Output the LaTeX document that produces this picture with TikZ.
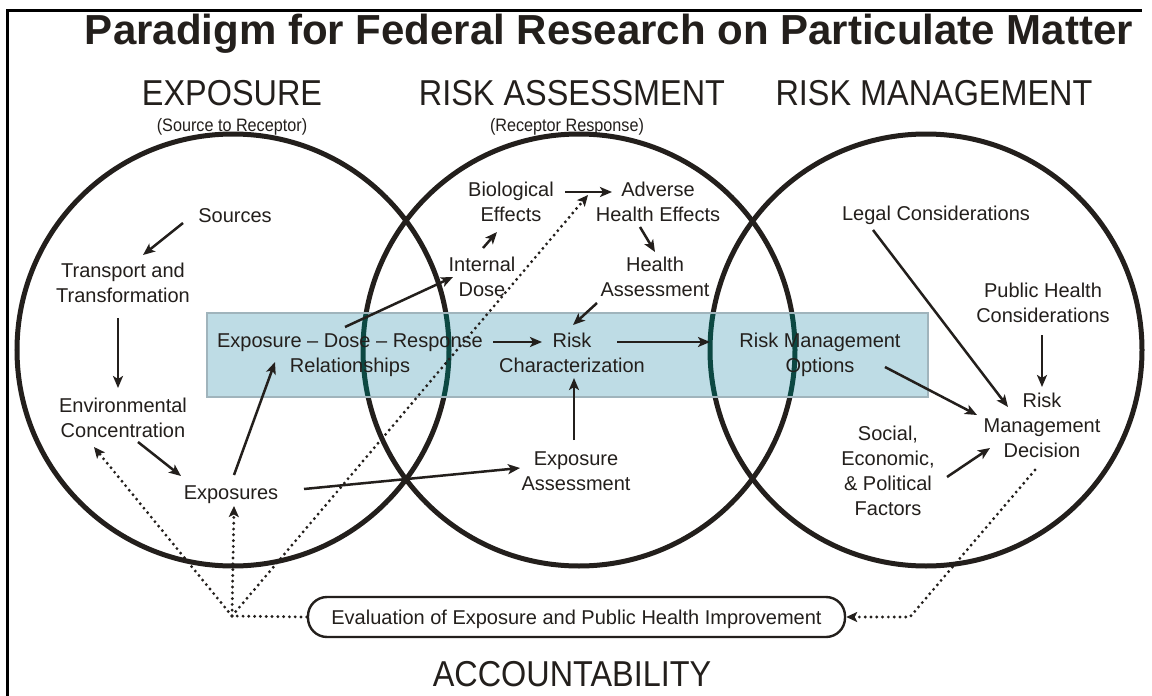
\documentclass[tikz,border=0pt]{standalone}
\usepackage{fontspec}
\setmainfont{Liberation Sans}
\newfontfamily\headfont[FakeStretch=0.9]{Liberation Sans}
\usetikzlibrary{arrows.meta,calc}
\definecolor{ink}{RGB}{35,31,28}
\definecolor{bandfill}{RGB}{190,220,229}
\definecolor{bandedge}{RGB}{160,180,188}
\definecolor{tealink}{RGB}{12,72,66}
\begin{document}
\begin{tikzpicture}[x=1pt,y=-1pt,
  txt/.style={font=\fontsize{20}{25}\selectfont, align=center, inner sep=0pt, text=ink,
    execute at begin node=\strut, execute at end node=\strut},
  head/.style={font=\headfont\fontsize{36}{40}\selectfont, anchor=base, inner sep=0pt, text=ink},
  sub/.style={font=\headfont\fontsize{18}{21}\selectfont, anchor=base, inner sep=0pt, text=ink},
  circ/.style={line width=5pt, draw=ink},
  arr/.style={-{Stealth[length=12pt,width=10pt,inset=3pt]}, line width=2.5pt, draw=ink},
  dot/.style={-{Stealth[length=11pt,width=10pt,inset=2.5pt]}, line width=3.2pt, draw=ink, line cap=round, dash pattern=on 0pt off 5.8pt},
  dotline/.style={line width=3.2pt, draw=ink, line cap=round, dash pattern=on 0pt off 5.8pt}
]
\useasboundingbox (0,0) rectangle (1152,696);
\fill[white] (0,0) rectangle (1152,696);
% partial frame
\draw[line width=3pt, black] (7.5,696) -- (7.5,10.5) -- (1142,10.5);

% titles
\node[font=\bfseries\fontsize{42}{46}\selectfont, anchor=base, inner sep=0pt, text=ink] (title) at (609,45) {Paradigm for Federal Research on Particulate Matter};
\node[head] (hexp) at (232,105) {EXPOSURE};
\node[head] (hra) at (572,105) {RISK ASSESSMENT};
\node[head] (hrm) at (934,105) {RISK MANAGEMENT};
\node[sub] (sexp) at (232,131.5) {(Source to Receptor)};
\node[sub] (sra) at (567,131.5) {(Receptor Response)};
\node[head] (acc) at (572,686) {ACCOUNTABILITY};

% circles
\coordinate (c1) at (233,350);
\coordinate (c2) at (579,350);
\coordinate (c3) at (926,350);
\draw[circ] (c1) circle[radius=216pt];
\draw[circ] (c2) circle[radius=216pt];
\draw[circ] (c3) circle[radius=216pt];

% blue band
\fill[bandfill] (207,313) rectangle (928,397);
\begin{scope}
  \clip (207,313) rectangle (928,397);
  \draw[circ, draw=tealink] (c1) circle[radius=216pt];
  \draw[circ, draw=tealink] (c2) circle[radius=216pt];
  \draw[circ, draw=tealink] (c3) circle[radius=216pt];
\end{scope}
\draw[bandedge, line width=1.5pt] (207,313) rectangle (928,397);

% text nodes
\node[txt] (src) at (235,217) {Sources};
\node[txt] (tt) at (123,287) {Transport and\\Transformation};
\node[txt] (ec) at (123,422) {Environmental\\Concentration};
\node[txt] (exs) at (231,494) {Exposures};
\node[txt] (edr) at (350,357) {Exposure -- Dose -- Response\\Relationships};
\node[txt] (rc) at (572,357) {Risk\\Characterization};
\node[txt] (rmo) at (820,357) {Risk Management\\Options};
\node[txt] (bio) at (511,206) {Biological\\Effects};
\node[txt] (ahe) at (658,206) {Adverse\\Health Effects};
\node[txt] (id) at (482,280.5) {Internal\\Dose};
\node[txt] (ha) at (655,281) {Health\\Assessment};
\node[txt] (ea) at (576,474.5) {Exposure\\Assessment};
\node[txt] (legal) at (936,215) {Legal Considerations};
\node[txt] (phc) at (1043,306.5) {Public Health\\Considerations};
\node[txt] (rmd) at (1042,429) {Risk\\Management\\Decision};
\node[txt] (sep) at (888,474) {Social,\\Economic,\\\& Political\\Factors};
\node[font=\fontsize{20}{25}\selectfont, text=ink, inner sep=0pt, text height=14.4pt, text depth=0pt,
  draw=ink, line width=2.4pt, rounded corners=19pt, minimum width=537pt, minimum height=40pt]
  (eval) at (576.5,617) {Evaluation of Exposure and Public Health Improvement};

% solid arrows
\draw[arr] ($(src)+(-52,6)$) -- ($(tt)+(20,-32)$);
\draw[arr] ($(tt)+(-5,31)$) -- ($(ec)+(-5,-34)$);
\draw[arr] ($(ec)+(15,20)$) -- ($(exs)+(-50,-18)$);
\draw[arr] ($(exs)+(3,-19)$) -- ($(edr)+(-75,5)$);
\draw[arr] ($(exs)+(73,-5)$) -- ($(ea)+(-56,-6.5)$);
\draw[arr] ($(edr)+(-5,-30)$) -- ($(id)+(-29,-3.5)$);
\draw[arr] ($(id)+(1,-32.5)$) -- ($(bio)+(-14,26)$);
\draw[arr] ($(bio)+(54,-14)$) -- ($(ahe)+(-46,-14)$);
\draw[arr] ($(ahe)+(-18,21)$) -- ($(ha)+(0,-29)$);
\draw[arr] ($(ha)+(-58,22)$) -- ($(rc)+(1,-32)$);
\draw[arr] ($(edr)+(143,-15)$) -- ($(rc)+(-30,-15)$);
\draw[arr] ($(rc)+(45,-15)$) -- ($(rmo)+(-110,-15)$);
\draw[arr] ($(ea)+(-2,-34.5)$) -- ($(rc)+(2,21)$);
\draw[arr] ($(legal)+(-63,15)$) -- ($(rmd)+(-34,-22)$);
\draw[arr] ($(phc)+(-1,28.5)$) -- ($(rmd)+(0,-42)$);
\draw[arr] ($(rmo)+(65,10)$) -- ($(rmd)+(-65,-14)$);
\draw[arr] ($(sep)+(59,3)$) -- ($(rmd)+(-52,19)$);

% dotted accountability links
\coordinate (J) at (232,616);
\coordinate (K) at (910,617);
\draw[dotline] (eval.west) -- (J);
\draw[dot] (J) -- ($(ec)+(-29,25)$);
\draw[dot] (J) -- ($(exs)+(3,12)$);
\draw[dot] (J) -- ($(ahe)+(-70,-11)$);
\draw[dot] ($(rmd)+(-7,41)$) -- (K) -- (eval.east);
\end{tikzpicture}
\end{document}
